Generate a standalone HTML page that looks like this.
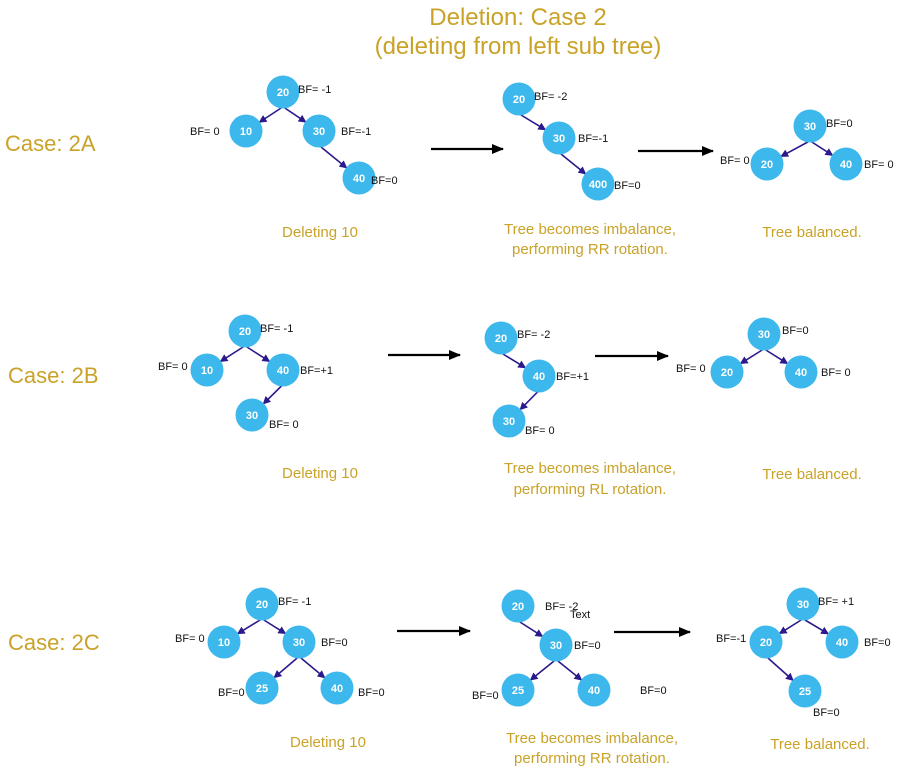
<!DOCTYPE html>
<html><head><meta charset="utf-8"><style>
html,body{margin:0;padding:0;background:#fff;width:900px;height:768px;overflow:hidden}
svg{display:block}
.c{font-family:"Liberation Sans",sans-serif;fill:#c9a227}
.b{font-family:"Liberation Sans",sans-serif;font-size:11px;fill:#111}
.n{font-family:"Liberation Sans",sans-serif;font-size:11px;fill:#fff;font-weight:bold}
</style></head><body>
<svg id="s" width="900" height="768" xmlns="http://www.w3.org/2000/svg">
<defs>
<marker id="a" markerWidth="8" markerHeight="8" refX="7" refY="4" orient="auto" markerUnits="userSpaceOnUse"><path d="M0,0 L8,4 L0,8 z" fill="#2b1a8c"/></marker>
<marker id="k" markerWidth="12" markerHeight="10" refX="11" refY="5" orient="auto" markerUnits="userSpaceOnUse"><path d="M0,0 L12,5 L0,10 z" fill="#000"/></marker>
</defs>
<text class="c" x="518" y="25" font-size="24" text-anchor="middle">Deletion: Case 2</text>
<text class="c" x="518" y="54" font-size="24" text-anchor="middle">(deleting from left sub tree)</text>
<text class="c" x="5" y="151" font-size="22">Case: 2A</text>
<text class="c" x="8" y="383" font-size="22">Case: 2B</text>
<text class="c" x="8" y="650" font-size="22">Case: 2C</text>
<g id="g"></g>
</svg>
<script>
var g=document.getElementById('g'),NS='http://www.w3.org/2000/svg';
function el(t,a,txt){var e=document.createElementNS(NS,t);for(var k in a)e.setAttribute(k,a[k]);if(txt)e.textContent=txt;g.appendChild(e);return e;}
function tree(nodes,edges,labels){
 edges.forEach(function(e){var p=nodes[e[0]],c=nodes[e[1]];
  var sx=p[0]+(c[0]-p[0])*0.05,sy=p[1]+16;
  var dx=c[0]-sx,dy=c[1]-sy,d=Math.sqrt(dx*dx+dy*dy);
  el('line',{x1:sx,y1:sy,x2:c[0]-dx/d*16,y2:c[1]-dy/d*16,stroke:'#2b1a8c','stroke-width':1.6,'marker-end':'url(#a)'});});
 for(var k in nodes){var n=nodes[k];el('circle',{cx:n[0],cy:n[1],r:16.5,fill:'#3db8ec'});
  el('text',{x:n[0],y:n[1]+4,'class':'n','text-anchor':'middle'},n[2]);}
 labels.forEach(function(l){el('text',{x:l[0],y:l[1]+4,'class':'b'},l[2]);});
}
function arrow(x1,y,x2){el('line',{x1:x1,y1:y,x2:x2,y2:y,stroke:'#000','stroke-width':2.2,'marker-end':'url(#k)'});}
function cap(x,y,t){el('text',{x:x,y:y,'class':'c','font-size':'15','text-anchor':'middle'},t);}
// 2A
tree({a:[283,92,'20'],b:[246,131,'10'],c:[319,131,'30'],d:[359,178,'40']},[['a','b'],['a','c'],['c','d']],
 [[298,89,'BF= -1'],[190,131,'BF= 0'],[341,131,'BF=-1'],[371,180,'BF=0']]);
tree({a:[519,99,'20'],c:[559,138,'30'],d:[598,184,'400']},[['a','c'],['c','d']],
 [[534,96,'BF= -2'],[578,138,'BF=-1'],[614,185,'BF=0']]);
tree({a:[810,126,'30'],b:[767,164,'20'],c:[846,164,'40']},[['a','b'],['a','c']],
 [[826,123,'BF=0'],[720,160,'BF= 0'],[864,164,'BF= 0']]);
arrow(431,149,503);arrow(638,151,713);
cap(320,237,'Deleting 10');cap(590,234,'Tree becomes imbalance,');cap(590,254,'performing RR rotation.');cap(812,237,'Tree balanced.');
// 2B
tree({a:[245,331,'20'],b:[207,370,'10'],c:[283,370,'40'],d:[252,415,'30']},[['a','b'],['a','c'],['c','d']],
 [[260,328,'BF= -1'],[158,366,'BF= 0'],[300,370,'BF=+1'],[269,424,'BF= 0']]);
tree({a:[501,338,'20'],c:[539,376,'40'],d:[509,421,'30']},[['a','c'],['c','d']],
 [[517,334,'BF= -2'],[556,376,'BF=+1'],[525,430,'BF= 0']]);
tree({a:[764,334,'30'],b:[727,372,'20'],c:[801,372,'40']},[['a','b'],['a','c']],
 [[782,330,'BF=0'],[676,368,'BF= 0'],[821,372,'BF= 0']]);
arrow(388,355,460);arrow(595,356,668);
cap(320,478,'Deleting 10');cap(590,473,'Tree becomes imbalance,');cap(590,494,'performing RL rotation.');cap(812,479,'Tree balanced.');
// 2C
tree({a:[262,604,'20'],b:[224,642,'10'],c:[299,642,'30'],d:[262,688,'25'],e:[337,688,'40']},[['a','b'],['a','c'],['c','d'],['c','e']],
 [[278,601,'BF= -1'],[175,638,'BF= 0'],[321,642,'BF=0'],[218,692,'BF=0'],[358,692,'BF=0']]);
tree({a:[518,606,'20'],c:[556,645,'30'],d:[518,690,'25'],e:[594,690,'40']},[['a','c'],['c','d'],['c','e']],
 [[545,606,'BF= -2'],[574,645,'BF=0'],[472,695,'BF=0'],[640,690,'BF=0']]);
el('text',{x:570,y:618,'class':'b','font-size':'7'},'Text');
tree({a:[803,604,'30'],b:[766,642,'20'],c:[842,642,'40'],d:[805,691,'25']},[['a','b'],['a','c'],['b','d']],
 [[818,601,'BF= +1'],[716,638,'BF=-1'],[864,642,'BF=0'],[813,712,'BF=0']]);
arrow(397,631,470);arrow(614,632,690);
cap(328,747,'Deleting 10');cap(592,743,'Tree becomes imbalance,');cap(592,763,'performing RR rotation.');cap(820,749,'Tree balanced.');
</script>
</body></html>
